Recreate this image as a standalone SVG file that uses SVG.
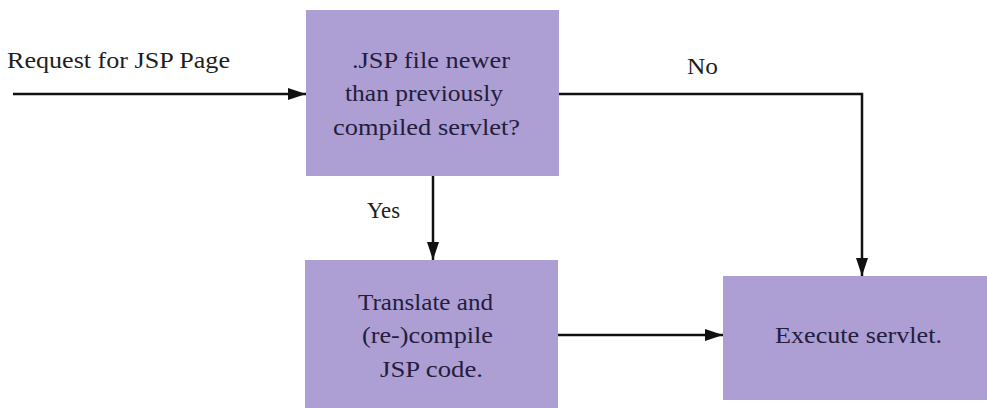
<svg xmlns="http://www.w3.org/2000/svg" width="987" height="408" viewBox="0 0 987 408" font-family="'Liberation Serif', 'DejaVu Serif', serif">
<style>
.box{fill:#ad9fd3;}
.t{font-size:24px;fill:#241d3e;}
.lbl{font-size:24px;fill:#1e1e1e;}
.c{stroke:#111;stroke-width:2.5;fill:none;marker-end:url(#ah);}
</style>
<defs>
<marker id="ah" viewBox="0 0 18 12" refX="18" refY="6" markerWidth="18" markerHeight="12" markerUnits="userSpaceOnUse" orient="auto">
<path d="M0,0 L18,6 L0,12 Z" fill="#111"/>
</marker>
</defs>
<rect width="987" height="408" fill="#ffffff"/>
<g id="connectors">
<path class="c" d="M13,94 L306,94"/>
<path class="c" d="M559,94 L862,94 L862,276"/>
<path class="c" d="M433,176 L433,260"/>
<path class="c" d="M558,335 L723,335"/>
</g>
<text class="lbl" x="7" y="68" textLength="223" lengthAdjust="spacingAndGlyphs">Request for JSP Page</text>
<text class="lbl" x="687" y="74" textLength="31" lengthAdjust="spacingAndGlyphs">No</text>
<text class="lbl" x="367" y="218" textLength="33" lengthAdjust="spacingAndGlyphs">Yes</text>
<g id="decision">
<rect class="box" x="306" y="10" width="253" height="166"/>
<text class="t" x="352" y="68" textLength="158" lengthAdjust="spacingAndGlyphs">.JSP file newer</text>
<text class="t" x="345" y="101" textLength="158" lengthAdjust="spacingAndGlyphs">than previously</text>
<text class="t" x="333" y="135" textLength="187" lengthAdjust="spacingAndGlyphs">compiled servlet?</text>
</g>
<g id="translate">
<rect class="box" x="305" y="260" width="253" height="148"/>
<text class="t" x="358" y="310" textLength="135" lengthAdjust="spacingAndGlyphs">Translate and</text>
<text class="t" x="362" y="343" textLength="131" lengthAdjust="spacingAndGlyphs">(re-)compile</text>
<text class="t" x="380" y="377" textLength="103" lengthAdjust="spacingAndGlyphs">JSP code.</text>
</g>
<g id="execute">
<rect class="box" x="723" y="276" width="264" height="124"/>
<text class="t" x="775" y="343" textLength="167" lengthAdjust="spacingAndGlyphs">Execute servlet.</text>
</g>
</svg>
